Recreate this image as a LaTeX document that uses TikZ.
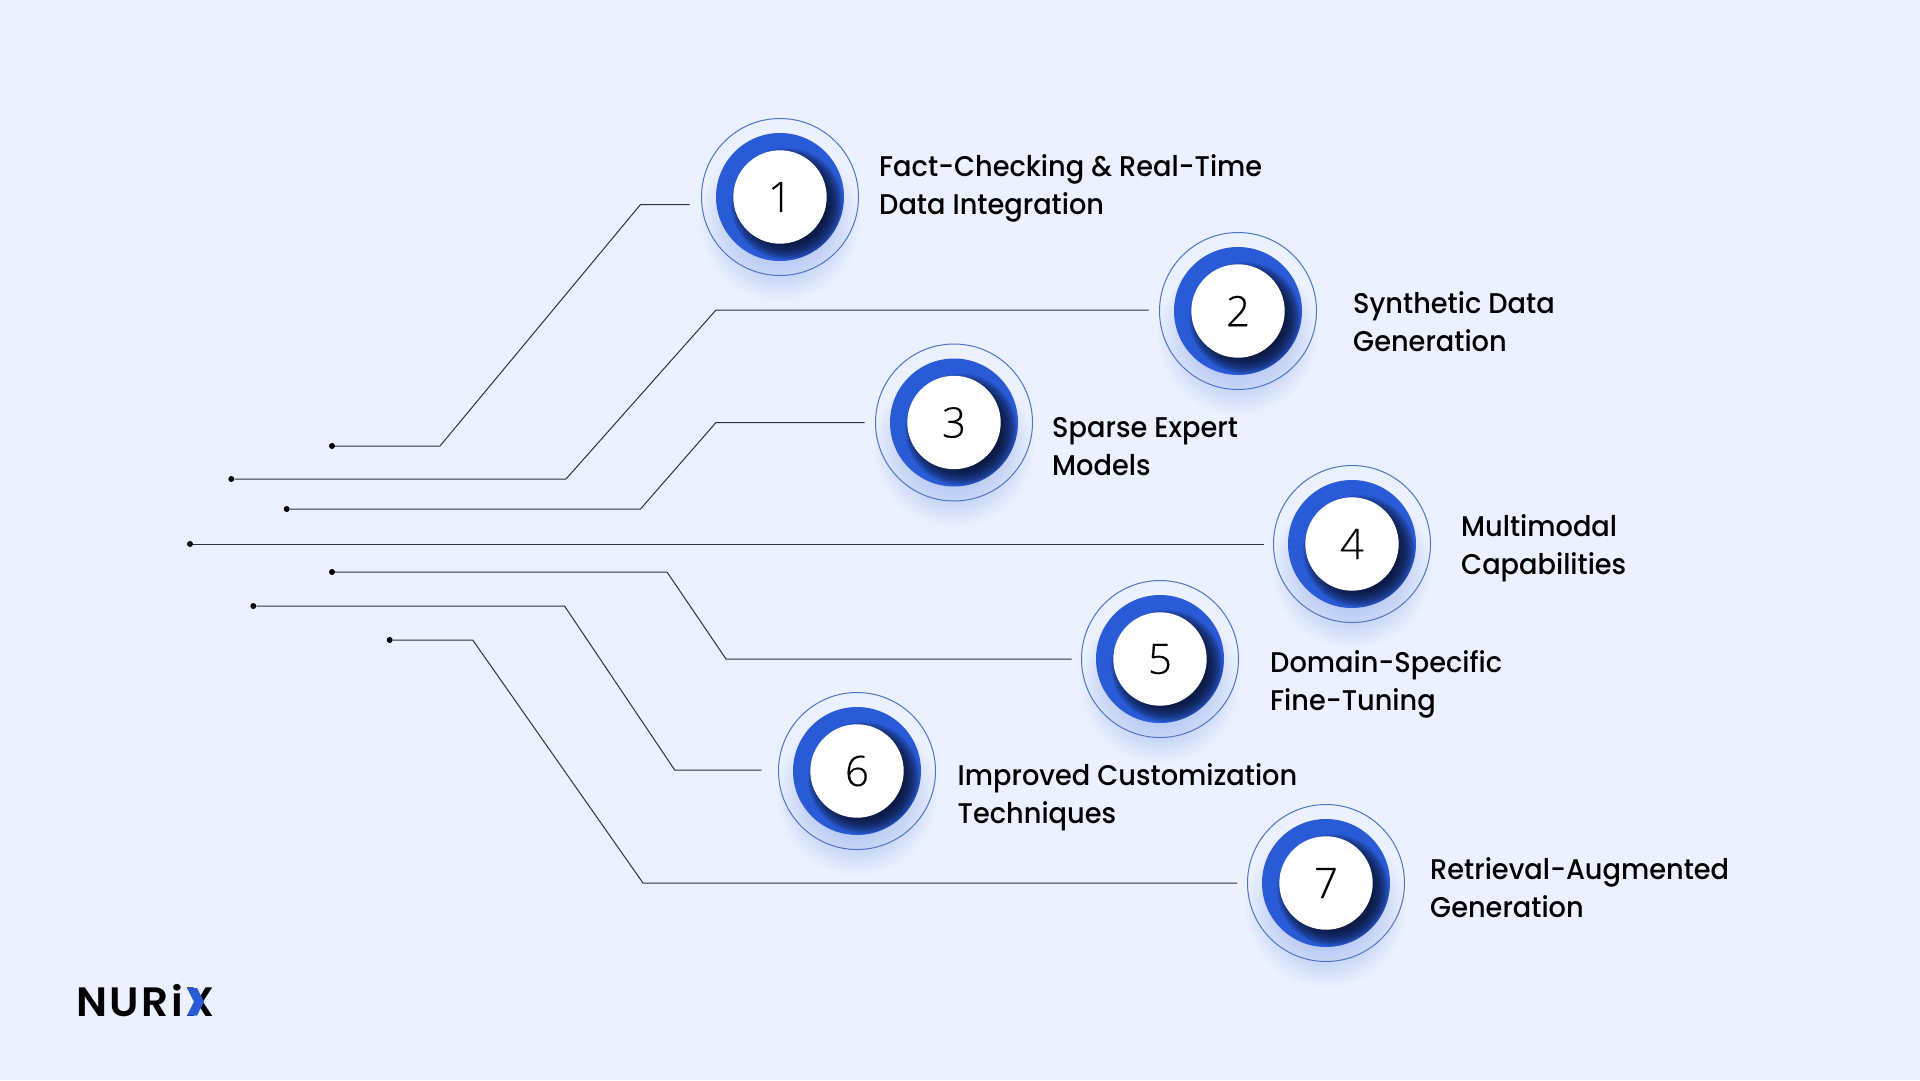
\documentclass[tikz,border=0pt]{standalone}
\usepackage{fontspec}
\setmainfont{Poppins}
\newfontfamily\lblfont[FakeStretch=0.955]{Poppins Medium}
\newfontfamily\numfont[FakeBold=0.3]{Open Sans Light}
\newfontfamily\logofont[LetterSpace=6,FakeStretch=1.03]{Poppins SemiBold}
\definecolor{bgc}{HTML}{EBF1FF}
\definecolor{blu}{HTML}{2A5BD7}
\definecolor{ringc}{HTML}{4D74C9}
\definecolor{glowc}{HTML}{5F8BF5}
\definecolor{darkc}{HTML}{0A1430}
\definecolor{wirec}{HTML}{2E323C}
\tikzset{
  wire/.style={draw=wirec,line width=1pt,line join=miter},
  dotnode/.style={circle,fill=black,inner sep=0pt,minimum size=6pt},
  numdisc/.style={circle,fill=white,inner sep=0pt,minimum size=93.4pt,font=\numfont\fontsize{42}{42}\selectfont,text=black},
  lbl/.style={anchor=west,align=left,inner sep=0pt,text=black,font=\lblfont\fontsize{28.5}{38}\selectfont},
}
\begin{document}
\begin{tikzpicture}[x=1pt,y=-1pt]
\useasboundingbox (0,0) rectangle (1920,1080);
\fill[bgc] (0,0) rectangle (1920,1080);
% discs
\foreach \n/\cx/\cy in {1/780/197,2/1238/311,3/954/422.5,4/1352/544,5/1160/659,6/857/771,7/1326/883}{
  \begin{scope}[shift={(\cx,\cy)}]
    \foreach \r in {44,47,...,80}{\fill[glowc,opacity=0.027] (0,24) circle (\r);}
    \draw[ringc,line width=1pt] (0,0) circle (78.5);
    \fill[blu] (0,0) circle (64);
    \begin{scope}
      \clip (0,0) circle (64);
      \foreach \r in {40,41,...,56}{\fill[darkc,opacity=0.1] (7,7) circle (\r);}
    \end{scope}
    \node[numdisc] (c\n) at (0,0) {\n};
  \end{scope}
}
% dots and bends
\node[dotnode] (d1) at (332,446) {};
\coordinate (a1) at (440,446); \coordinate (b1) at (640.5,204.5); \coordinate (e1) at (689.5,204.5);
\node[dotnode] (d2) at (231.3,479) {};
\coordinate (a2) at (566,479); \coordinate (b2) at (716,310); \coordinate (e2) at (1148.5,310);
\node[dotnode] (d3) at (286.7,509) {};
\coordinate (a3) at (640.5,509); \coordinate (b3) at (716,422.5); \coordinate (e3) at (864.5,422.5);
\node[dotnode] (d4) at (190,544) {};
\coordinate (e4) at (1264,544);
\node[dotnode] (d5) at (332,572) {};
\coordinate (a5) at (667,572); \coordinate (b5) at (726,659); \coordinate (e5) at (1071.5,659);
\node[dotnode] (d6) at (253.3,606) {};
\coordinate (a6) at (564.5,606); \coordinate (b6) at (674.7,770); \coordinate (e6) at (761.6,770);
\node[dotnode] (d7) at (389.7,640) {};
\coordinate (a7) at (472.7,640); \coordinate (b7) at (643,883); \coordinate (e7) at (1237,883);
\draw[wire] (d1) -- (a1) -- (b1) -- (e1);
\draw[wire] (d2) -- (a2) -- (b2) -- (e2);
\draw[wire] (d3) -- (a3) -- (b3) -- (e3);
\draw[wire] (d4) -- (e4);
\draw[wire] (d5) -- (a5) -- (b5) -- (e5);
\draw[wire] (d6) -- (a6) -- (b6) -- (e6);
\draw[wire] (d7) -- (a7) -- (b7) -- (e7);
% labels
\node[lbl] (t1) at (879,188) {Fact-Checking \& Real-Time\\Data Integration};
\node[lbl] (t2) at (1353,321.5) {Synthetic Data\\Generation};
\node[lbl] (t3) at (1052,447) {Sparse Expert\\Models};
\node[lbl] (t4) at (1461,548) {Multimodal\\Capabilities};
\node[lbl] (t5) at (1270,684) {Domain-Specific\\Fine-Tuning};
\node[lbl] (t6) at (957.5,797.5) {Improved Customization\\Techniques};
\node[lbl] (t7) at (1430,888) {Retrieval-Augmented\\Generation};
% logo
\node[anchor=base west,inner sep=0pt,text=black,font=\logofont\fontsize{41}{41}\selectfont] (logo) at (76,1016) {NURiX};
\fill[blu] (187,988) -- (197,988) -- (204,1001.7) -- (197,1015.5) -- (187,1015.5) -- (194,1001.7) -- cycle;
\end{tikzpicture}
\end{document}
